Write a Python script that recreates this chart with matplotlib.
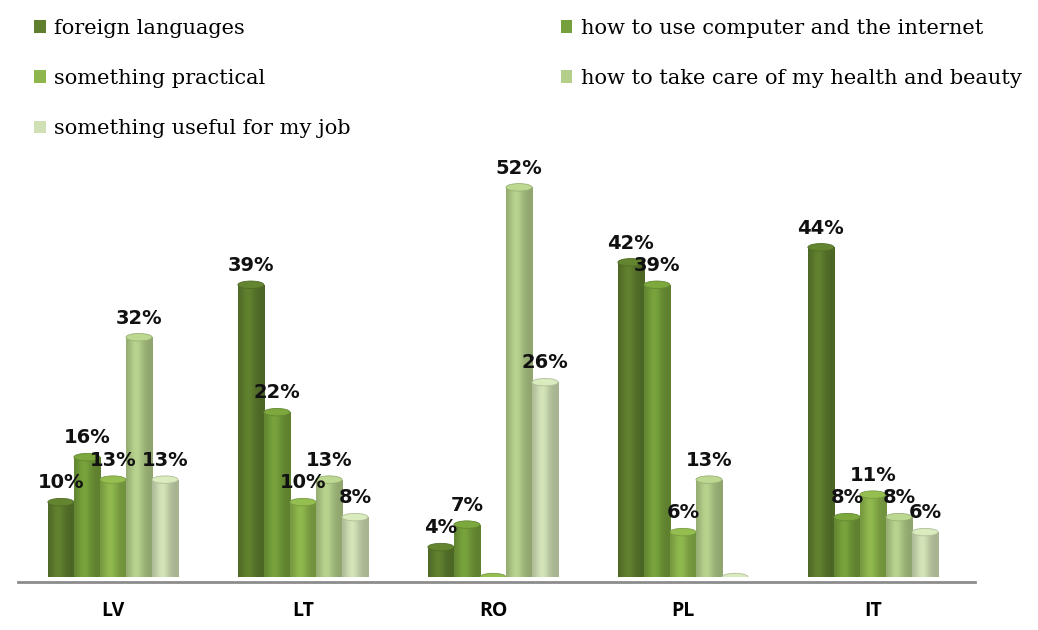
import numpy as np
import matplotlib.pyplot as plt
from matplotlib.patches import Patch, Ellipse
from matplotlib.colors import to_rgb

# данные
countries = ["LV", "LT", "RO", "PL", "IT"]
series_names = [
    "foreign languages",
    "how to use computer and the internet",
    "something practical",
    "how to take care of my health and beauty",
    "something useful for my job",
]
foreign_languages = [10, 39, 4, 42, 44]
computer_internet = [16, 22, 7, 39, 8]
something_practical = [13, 10, 0, 6, 11]
health_beauty = [32, 13, 52, 13, 8]
useful_for_job = [13, 8, 26, 0, 6]

values = [foreign_languages, computer_internet, something_practical,
          health_beauty, useful_for_job]
colors = ["#5f7f2e", "#76a03b", "#8db64c", "#b4cf8a", "#d0e0b5"]

fig = plt.figure(figsize=(10.38, 6.3), dpi=100)
ax = fig.add_axes([0.0173, 0.084, 0.922, 0.646])

x = np.arange(len(countries))
w = 0.137
ymax = 54.3


def shade(color, n=64):
    # цилиндрическая заливка: светлее ближе к левой трети, темнее по краям
    t = np.linspace(0, 1, n)
    f = 0.80 + 0.22 * np.exp(-((t - 0.38) / 0.28) ** 2)
    rgb = np.array(to_rgb(color))
    img = np.clip(rgb[None, :] * f[:, None], 0, 1)
    return img[None, :, :]


for i, (vals, col) in enumerate(zip(values, colors)):
    pos = x + (i - 2) * w
    bars = ax.bar(pos, vals, width=w, color=col, zorder=2, linewidth=0)
    base = np.array(to_rgb(col))
    for b, v in zip(bars, vals):
        x0 = b.get_x()
        im = ax.imshow(shade(col), extent=[x0, x0 + w, 0, max(v, 0.01)],
                       aspect="auto", zorder=3, interpolation="bilinear")
        im.set_clip_path(b)
        cap = Ellipse((x0 + w / 2, v), w, 1.0, facecolor=np.clip(base * 1.05, 0, 1),
                      edgecolor=base * 0.85, linewidth=0.6, zorder=4)
        ax.add_patch(cap)
        if v > 0:
            ax.annotate(f"{v}%", (x0 + w / 2, v), xytext=(0, 7),
                        textcoords="offset points", ha="center", va="bottom",
                        fontsize=14, fontweight="bold", color="#111111",
                        family="DejaVu Sans", zorder=6)

ax.set_xlim(-0.5, 4.537)
ax.set_ylim(0, ymax)
for s in ["top", "right", "left"]:
    ax.spines[s].set_visible(False)
ax.spines["bottom"].set_color("#8c8c8c")
ax.spines["bottom"].set_linewidth(2)
ax.spines["bottom"].set_position(("data", -0.6))
ax.set_yticks([])
ax.set_xticks(x)
ax.set_xticklabels(countries, fontsize=14, fontweight="bold", family="Open Sans")
ax.tick_params(axis="x", length=0, pad=14)

# легенда: порядок по строкам как в оригинале
order = [0, 2, 4, 1, 3]
handles = [Patch(facecolor=colors[k], edgecolor="none") for k in order]
labels = [series_names[k] for k in order]
fig.legend(handles, labels, loc="upper left", bbox_to_anchor=(0.015, 1.0),
           ncol=2, frameon=False, prop={"family": "DejaVu Serif", "size": 15},
           handlelength=0.55, handleheight=0.55, handletextpad=0.4,
           labelspacing=1.5, columnspacing=10.1, borderaxespad=0.5)

fig.savefig("out.png", dpi=100)
